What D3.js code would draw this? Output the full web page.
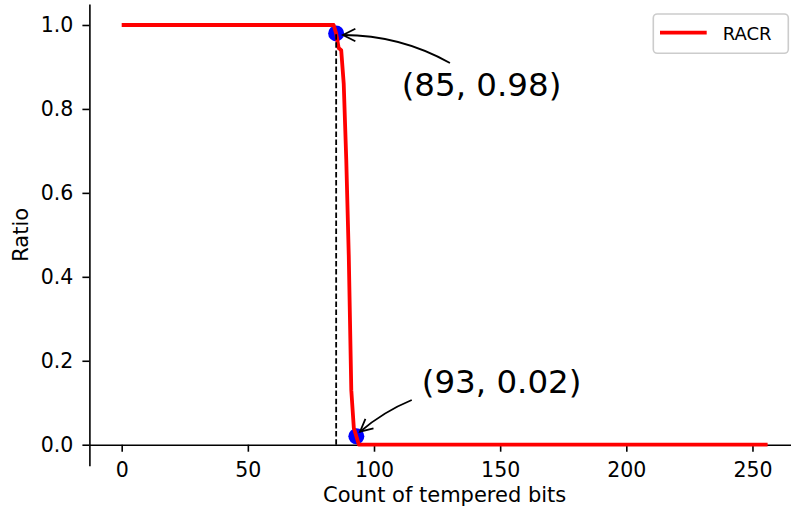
<!DOCTYPE html>
<html>
<head>
<meta charset="utf-8">
<script src="https://cdn.jsdelivr.net/npm/d3@7"></script>
<style>
  body { margin: 0; background: #fff; }
  svg { display: block; font-family: "DejaVu Sans", sans-serif; }
</style>
</head>
<body>
<svg id="chart" width="791" height="512"></svg>
<script>
// breakpoints of the RACR curve (flat at 1 before, flat at 0 after)
var bits = [0, 84, 85, 86, 87, 88, 89, 90, 91, 92, 93, 94, 256];
var racr = [1.0, 1.0, 0.98, 0.945, 0.94, 0.86, 0.68, 0.45, 0.13, 0.04, 0.02, 0.0, 0.0];

// highlighted points
var markX = [85, 93];
var markY = [0.98, 0.02];
var markLabels = ["(85, 0.98)", "(93, 0.02)"];

var xTicks = [0, 50, 100, 150, 200, 250];
var yTicks = [0.0, 0.2, 0.4, 0.6, 0.8, 1.0];

var svg = d3.select("#chart");

var x = d3.scaleLinear().domain([-12.8, 268.8]).range([89.4, 799.9]);
var y = d3.scaleLinear().domain([-0.05, 1.05]).range([465.7, 4]);

// axes
svg.append("g")
    .attr("transform", "translate(0," + y(0) + ")")
    .call(d3.axisBottom(x).tickValues(xTicks).tickSize(7).tickSizeOuter(0).tickPadding(10.6));

svg.append("g")
    .attr("transform", "translate(" + x.range()[0] + ",0)")
    .call(d3.axisLeft(y).tickValues(yTicks).tickFormat(d3.format(".1f")).tickSize(7).tickSizeOuter(0).tickPadding(9));

svg.selectAll(".domain, .tick line")
    .attr("stroke", "#000")
    .attr("stroke-width", 1.6);
svg.selectAll(".tick text")
    .attr("fill", "#000")
    .style("font-family", "DejaVu Sans")
    .style("font-size", "20.5px");

svg.append("text")
    .attr("transform", "translate(28.3," + ((y.range()[0] + y.range()[1]) / 2) + ") rotate(-90)")
    .attr("text-anchor", "middle")
    .style("font-size", "21px")
    .text("Ratio");

svg.append("text")
    .attr("x", (x.range()[0] + x.range()[1]) / 2)
    .attr("y", 502.3)
    .attr("text-anchor", "middle")
    .style("font-size", "21px")
    .text("Count of tempered bits");

// marked points (below the line)
svg.selectAll("circle.mark")
    .data(markX)
    .enter()
    .append("circle")
    .attr("class", "mark")
    .attr("cx", function(d) { return x(d); })
    .attr("cy", function(d, i) { return y(markY[i]); })
    .attr("r", 8)
    .attr("fill", "#0000ff");

// curve
var line = d3.line()
    .x(function(d) { return x(d); })
    .y(function(d, i) { return y(racr[i]); });

svg.append("path")
    .attr("d", line(bits))
    .attr("fill", "none")
    .attr("stroke", "#ff0000")
    .attr("stroke-width", 3.8)
    .attr("stroke-linejoin", "round");

// dashed guide at the first marked point
svg.append("line")
    .attr("x1", x(markX[0]))
    .attr("x2", x(markX[0]))
    .attr("y1", y(0))
    .attr("y2", y(markY[0]))
    .attr("stroke", "#000")
    .attr("stroke-width", 1.8)
    .attr("stroke-dasharray", "5.5,2.6");

// annotations: text offset and arrow start relative to the point (px)
var annot = [
    { tx: 65.5, ty: 62.6, sx: 113.8, sy: 29.6, ex: 6.8, ey: 1.6, rad: -0.13 },
    { tx: 65.4, ty: -43.3, sx: 55.4, sy: -36.3, ex: 3.7, ey: -4.6, rad: -0.08 }
];

annot.forEach(function(a, i) {
    var px = x(markX[i]), py = y(markY[i]);

    svg.append("text")
        .attr("x", px + a.tx)
        .attr("y", py + a.ty)
        .style("font-size", "32.5px")
        .text(markLabels[i]);

    var sx = px + a.sx, sy = py + a.sy,
        ex = px + a.ex, ey = py + a.ey,
        dx = ex - sx, dy = ey - sy,
        cx = (sx + ex) / 2 + a.rad * dy,
        cy = (sy + ey) / 2 - a.rad * dx;

    svg.append("path")
        .attr("d", "M" + sx + "," + sy + "Q" + cx + "," + cy + " " + ex + "," + ey)
        .attr("fill", "none")
        .attr("stroke", "#000")
        .attr("stroke-width", 1.8);

    // open arrow head
    var ux = ex - cx, uy = ey - cy, len = Math.sqrt(ux * ux + uy * uy);
    ux /= len; uy /= len;
    var hl = 12.4, hw = 6.2;
    svg.append("path")
        .attr("d", "M" + (ex - hl * ux - hw * uy) + "," + (ey - hl * uy + hw * ux) +
            "L" + ex + "," + ey +
            "L" + (ex - hl * ux + hw * uy) + "," + (ey - hl * uy - hw * ux))
        .attr("fill", "none")
        .attr("stroke", "#000")
        .attr("stroke-width", 1.8);
});

// legend
var legend = svg.append("g");
legend.append("rect")
    .attr("x", 653.3)
    .attr("y", 14)
    .attr("width", 135)
    .attr("height", 39.3)
    .attr("rx", 4)
    .attr("fill", "#fff")
    .attr("fill-opacity", 0.8)
    .attr("stroke", "#cccccc")
    .attr("stroke-width", 1.6);
legend.append("line")
    .attr("x1", 660)
    .attr("x2", 706.7)
    .attr("y1", 32.7)
    .attr("y2", 32.7)
    .attr("stroke", "#ff0000")
    .attr("stroke-width", 3.8);
legend.append("text")
    .attr("x", 722.7)
    .attr("y", 39.6)
    .style("font-size", "18px")
    .text("RACR");
</script>
</body>
</html>
